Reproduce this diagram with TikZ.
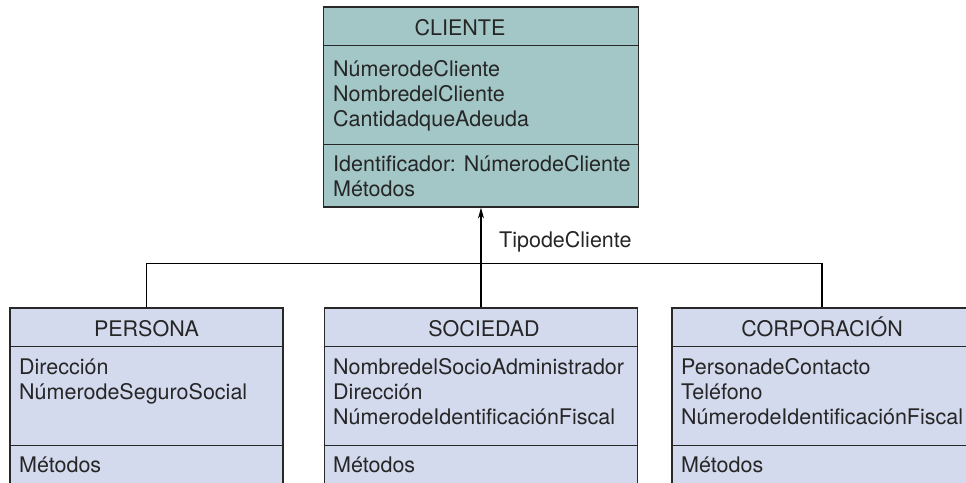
\documentclass[tikz,border=0pt]{standalone}
\usepackage{fontspec}
\setmainfont{TeX Gyre Heros}
\usepackage{tikz}
\usetikzlibrary{arrows.meta, positioning, calc}
\definecolor{clientefill}{RGB}{163,198,198}
\definecolor{tipofill}{RGB}{212,218,238}
\definecolor{bordegris}{RGB}{40,40,40}

\begin{document}
\begin{tikzpicture}[x=1pt, y=-1pt,
      classbox/.style={draw=bordegris, line width=1.2pt, inner sep=0pt},
      sectline/.style={draw=bordegris, line width=1.2pt},
      classname/.style={font=\fontsize{21.5pt}{25pt}\selectfont, anchor=base,
      inner sep=0pt, text=black!85},
      attrs/.style={font=\fontsize{21.5pt}{25pt}\selectfont, align=left,
      anchor=base west, inner sep=0pt, text=black!85},
      link/.style={line width=1.2pt, black},
      inherit/.style={link, -{Stealth[length=11pt, width=6pt]}} ]
    
    \useasboundingbox (0,0) rectangle (966,482);
    \clip (0,0) rectangle (966,482);
    
    % Superclase
    \node[classbox, fill=clientefill, minimum width=315pt, minimum
    height=200pt] (cliente) at (481,107) {};
    \draw[sectline] ($(cliente.north west)+(0,39)$) -- ($(cliente.north
    east)+(0,39)$); \draw[sectline] ($(cliente.north west)+(0,138)$) --
    ($(cliente.north east)+(0,138)$);
    
    % Subclases
    \node[classbox, fill=tipofill, minimum width=273pt, minimum height=192pt]
    (persona) at (146.5,404) {}; \node[classbox, fill=tipofill, minimum
    width=313pt, minimum height=192pt] (sociedad) at (481,404) {};
    \node[classbox, fill=tipofill, minimum width=300pt, minimum height=192pt]
    (corporacion) at (822,404) {};
    
    % Lineas de seccion
    \foreach \c in {persona, sociedad, corporacion} {
      \draw[sectline] ($(\c.north west)+(0,39)$) -- ($(\c.north east)+(0,39)$);
      \draw[sectline] ($(\c.north west)+(0,138)$) -- ($(\c.north
      east)+(0,138)$); }
    
    % Nombres de clase (base = ultima linea)
    \node[classname] (clientenom) at (460,35) {CLIENTE}; \node[classname]
    (personanom) at (146.5,336) {PERSONA}; \node[classname] (sociedadnom) at
    (484,336) {SOCIEDAD}; \node[classname] (corporacionnom) at (822,336)
    {CORPORACIÓN};
    
    % Atributos y metodos
    \node[attrs] (clienteattr) at (333,126.7)
    {NúmerodeCliente\\NombredelCliente\\CantidadqueAdeuda}; \node[attrs]
    (clientemet) at (333,196.7) {Identificador: NúmerodeCliente\\Métodos};
    \node[attrs] (personaattr) at (19,399)
    {Dirección\\NúmerodeSeguroSocial}; \node[attrs] (personamet) at (19,472)
    {Métodos};
    \node[attrs] (sociedadattr) at (333,424)
    {NombredelSocioAdministrador\\Dirección\\NúmerodeIdentificaciónFiscal};
    \node[attrs] (sociedadmet) at (333,472) {Métodos};
    \node[attrs] (corporacionattr) at (681,424)
    {PersonadeContacto\\Teléfono\\NúmerodeIdentificaciónFiscal};
    \node[attrs] (corporacionmet) at (681,472) {Métodos};
    
    % Generalizacion
    \draw[link] (persona.north) -- ++(0,-44) -| (corporacion.north);
    \draw[inherit] (sociedad.north) -- (cliente.south);
    \node[attrs] (tipo) at (499,247) {TipodeCliente};
    
    \end{tikzpicture}
\end{document}
